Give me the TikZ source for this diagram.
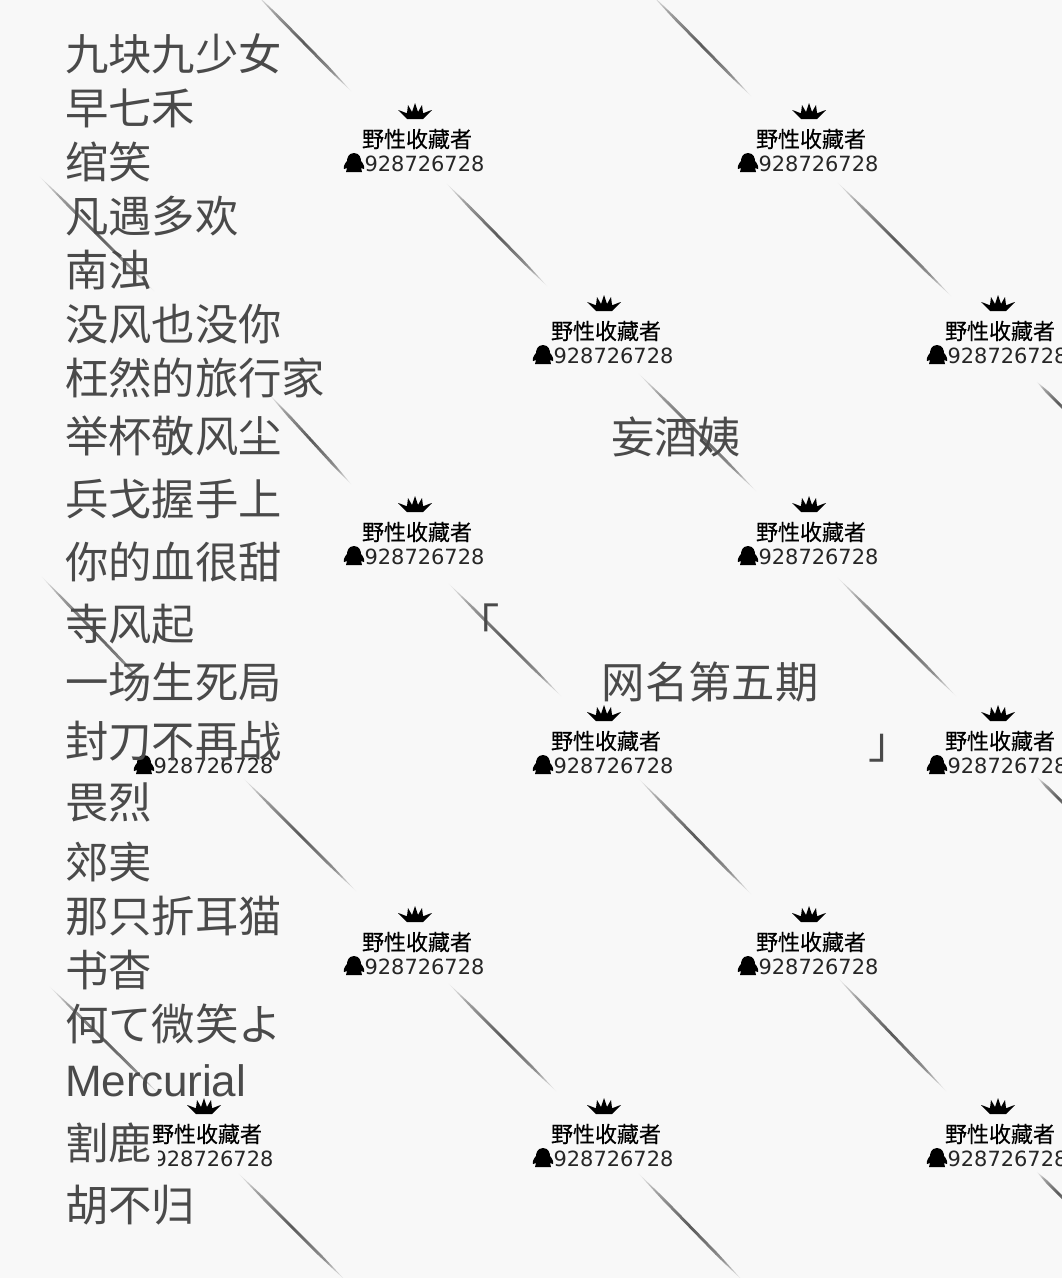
\documentclass[tikz,border=0pt]{standalone}
\usepackage{fontspec}
\setmainfont{Noto Sans CJK SC}
\newfontfamily\numfont{DejaVu Sans}
\newfontfamily\latinfont{Liberation Sans}
\newfontfamily\markfont[FakeBold=0.35]{Noto Sans CJK SC}
\usetikzlibrary{positioning, calc}
\definecolor{paperGray}{HTML}{F8F8F8}
\definecolor{inkGray}{HTML}{4A4A4A}
\definecolor{streakGray}{HTML}{5A5A5A}
\pgfdeclarehorizontalshading{streakFade}{100bp}{
    color(0bp)=(paperGray); color(15bp)=(paperGray); color(27bp)=(streakGray!55!paperGray);
    color(50bp)=(streakGray); color(72bp)=(streakGray!65!paperGray); color(85bp)=(paperGray); color(100bp)=(paperGray)}
\tikzstyle{listText} = [
    anchor=west,
    inner sep=0pt,
    text=inkGray,
    font=\fontsize{32.5}{32.5}\selectfont
    ]
\tikzstyle{titleText} = [
    inner sep=0pt,
    text=inkGray,
    font=\fontsize{32.5}{32.5}\selectfont
    ]
\tikzstyle{markName} = [
    inner sep=0pt,
    text=black,
    font=\markfont\fontsize{16.5}{16.5}\selectfont
    ]
\tikzstyle{markNumber} = [
    inner sep=0pt,
    text=black!85,
    font=\numfont\fontsize{15.7}{15.7}\selectfont
    ]
% x1 y1 x2 y2
\newcommand{\streak}[4]{
    \coordinate (sa) at (#1,#2);
    \coordinate (sb) at (#3,#4);
    \shade[shading=streakFade, shading angle=-45]
        (sa) -- ($(sa)!.25!(sb)+(1,-1)$) -- ($(sa)!.75!(sb)+(1,-1)$) -- (sb)
        -- ($(sa)!.75!(sb)+(-1,1)$) -- ($(sa)!.25!(sb)+(-1,1)$) -- cycle;
}
% crown centre x y
\newcommand{\crownMark}[2]{
    \fill[black] (#1-17,#2-2) .. controls (#1-13,#2-1) and (#1-10,#2+1) .. (#1-8,#2+1)
        -- (#1-7,#2-7) -- (#1-3,#2) -- (#1,#2-9) -- (#1+3,#2) -- (#1+7,#2-7) -- (#1+8,#2+1)
        .. controls (#1+10,#2+1) and (#1+13,#2-1) .. (#1+17,#2-2)
        -- (#1+8,#2+7) -- (#1-8,#2+7) -- cycle;
}
% penguin centre x y
\newcommand{\qqMark}[2]{
    \fill[black] (#1,#2-10) .. controls (#1+6,#2-10) and (#1+7,#2-4) .. (#1+7,#2-2)
        .. controls (#1+9,#2) and (#1+11,#2+4) .. (#1+10,#2+6)
        -- (#1+7,#2+5) -- (#1+8,#2+9) -- (#1-8,#2+9) -- (#1-7,#2+5) -- (#1-10,#2+6)
        .. controls (#1-11,#2+4) and (#1-9,#2) .. (#1-7,#2-2)
        .. controls (#1-7,#2-4) and (#1-6,#2-10) .. (#1,#2-10) -- cycle;
}
% whole watermark, crown centre x y
\newcommand{\wmark}[2]{
    \crownMark{#1}{#2}
    \node[markName] (name#1#2) at (#1+2,#2+27) {野性收藏者};
    \node[markNumber] (num#1#2) at (#1+9.5,#2+52) {928726728};
    \qqMark{#1-61}{#2+51}
}

\begin{document}
\begin{tikzpicture}[x=0.75pt, y=-0.75pt]
    \useasboundingbox (0,0) rectangle (1062,1278);
    \fill[paperGray] (0,0) rectangle (1062,1278);

    % diagonal streaks
    \foreach \xa/\ya/\xb/\yb in {
        255/-7/352/92, 650/-7/752/97, 445/182/548/287, 836/181/952/297,
        38/175/155/292, 268/393/352/485, 637/372/757/492, 447/582/562/697,
        836/576/957/697, 40/575/150/690, 242/777/357/892, 637/777/752/895,
        447/982/557/1092, 836/976/947/1092, 48/985/160/1095,
        237/1172/346/1281, 637/1172/743/1281, 1036/1171/1080/1215,
        1036/381/1080/425, 1036/776/1080/820} {
        \streak{\xa}{\ya}{\xb}{\yb}
    }

    % watermarks
    \foreach \xm/\ym in {415/112, 809/112, 604/304, 998/304, 415/505, 809/505,
        604/714, 998/714, 415/915, 809/915, 604/1107, 998/1107} {
        \wmark{\xm}{\ym}
    }

    % partly covered ones
    \node[markNumber] (numLower) at (213.5,766) {928726728};
    \qqMark{144}{765}
    \crownMark{204}{1107}
    \node[markName] (nameBottom) at (207,1134) {野性收藏者};
    \begin{scope}
        \clip (158,1140) rectangle (290,1180);
        \node[markNumber] (numBottom) at (213.5,1159) {928726728};
    \end{scope}

    % left list
    \foreach \ypos/\txt in {
        54/九块九少女, 108/早七禾, 162/绾笑, 216/凡遇多欢, 270/南浊, 324/没风也没你,
        378/枉然的旅行家, 436/举杯敬风尘, 499/兵戈握手上, 562/你的血很甜, 624/寺风起,
        682/一场生死局, 741/封刀不再战, 802/畏烈, 862/郊実, 916/那只折耳猫, 970/书杳,
        1024/何て微笑よ, 1081/{\latinfont\fontsize{33}{33}\selectfont Mercurial}, 1143/割鹿, 1205/胡不归} {
        \node[listText] (line\ypos) at (65,\ypos) {\txt};
    }

    % title
    \node[titleText] (author) at (676,437) {妄酒姨};
    \node[titleText] (issue) at (710,682) {网名第五期};
    \node[titleText] (open) at (478,622) {「};
    \node[titleText] (close) at (890,748) {」};
\end{tikzpicture}
\end{document}
